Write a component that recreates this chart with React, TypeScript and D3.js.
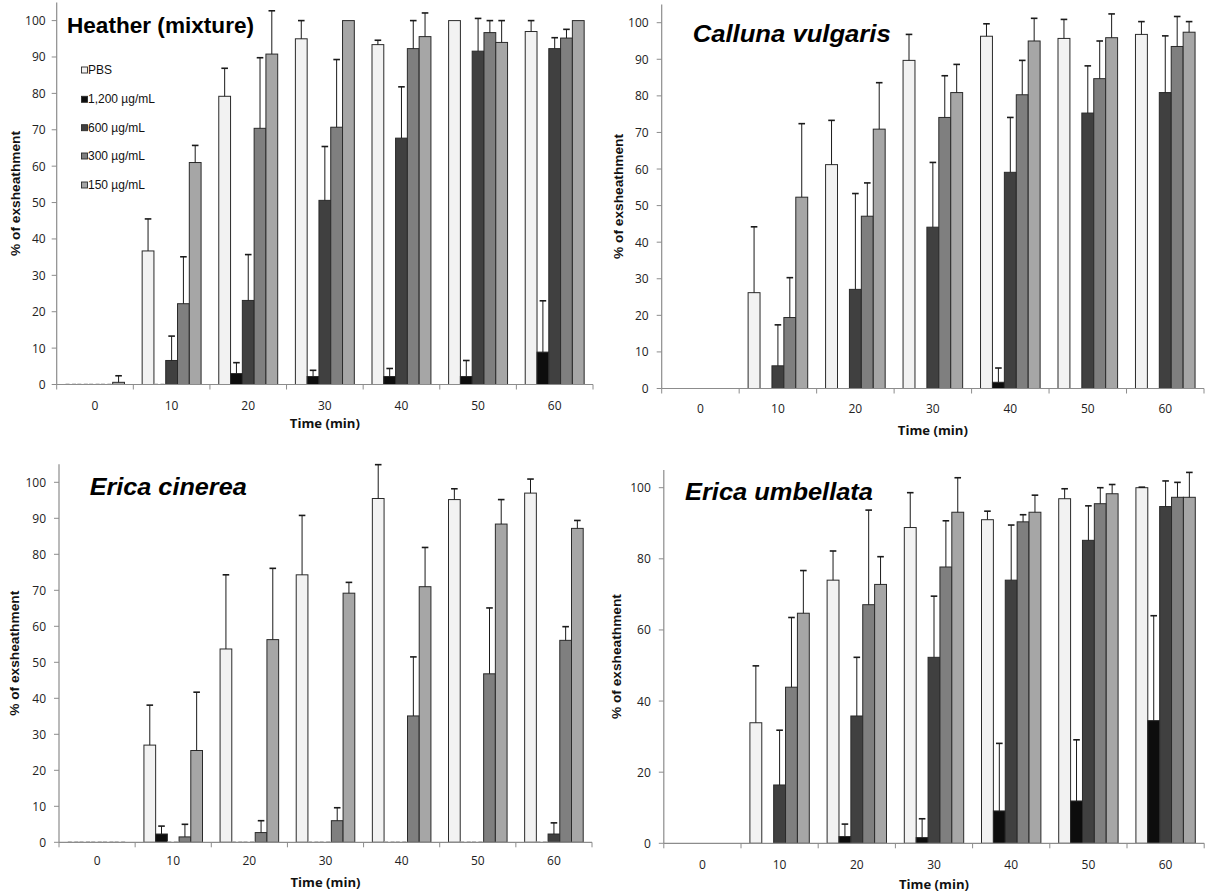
import React from "react";
import * as d3 from "d3";

// ---------- shared categories / series ----------
const categories = ["0", "10", "20", "30", "40", "50", "60"];
const seriesNames = ["PBS", "1,200 µg/mL", "600 µg/mL", "300 µg/mL", "150 µg/mL"];
const seriesColors = ["#f2f2f2", "#0d0d0d", "#404040", "#7f7f7f", "#a6a6a6"];
const yTicks10 = [0, 10, 20, 30, 40, 50, 60, 70, 80, 90, 100];
const yTicks20 = [0, 20, 40, 60, 80, 100];

// ---------- Heather (mixture) ----------  rows = series, cols = time
const heatherMeans = [
  [0, 36.7, 79.2, 95.0, 93.4, 100, 97.0],
  [0, 0, 3.0, 2.2, 2.2, 2.2, 8.9],
  [0, 6.6, 23.1, 50.6, 67.7, 91.6, 92.3],
  [0, 22.2, 70.4, 70.7, 92.3, 96.7, 95.2],
  [0.6, 61.0, 90.8, 100, 95.6, 94.0, 100],
];
const heatherUpper = [
  [0, 45.5, 86.9, 100, 94.6, 100, 100],
  [0, 0, 6.0, 3.9, 4.4, 6.6, 23.0],
  [0, 13.3, 35.7, 65.4, 81.8, 100.6, 95.3],
  [0, 35.1, 89.8, 89.3, 100, 100, 97.6],
  [2.4, 65.7, 102.7, 100, 102.1, 100, 100],
];

// ---------- Calluna vulgaris ----------
const callunaMeans = [
  [0, 26.2, 61.2, 89.7, 96.3, 95.7, 96.8],
  [0, 0, 0, 0, 1.7, 0, 0],
  [0, 6.2, 27.1, 44.1, 59.1, 75.3, 80.9],
  [0, 19.4, 47.1, 74.1, 80.3, 84.7, 93.5],
  [0, 52.3, 70.9, 80.9, 95.0, 95.9, 97.4],
];
const callunaUpper = [
  [0, 44.2, 73.3, 96.8, 99.7, 100.9, 100.3],
  [0, 0, 0, 0, 5.6, 0, 0],
  [0, 17.4, 53.3, 61.8, 74.1, 88.2, 96.4],
  [0, 30.3, 56.2, 85.5, 89.7, 95.0, 101.7],
  [0, 72.4, 83.6, 88.6, 101.2, 102.4, 100.3],
];

// ---------- Erica cinerea ----------
const cinereaMeans = [
  [0, 27.0, 53.7, 74.3, 95.5, 95.2, 97.0],
  [0, 2.3, 0, 0, 0, 0, 0],
  [0, 0, 0, 0, 0, 0, 2.3],
  [0, 1.5, 2.7, 6.0, 35.1, 46.8, 56.1],
  [0, 25.5, 56.3, 69.2, 71.0, 88.4, 87.2],
];
const cinereaUpper = [
  [0, 38.1, 74.3, 90.8, 104.9, 98.2, 100.9],
  [0, 4.5, 0, 0, 0, 0, 0],
  [0, 0, 0, 0, 0, 0, 5.4],
  [0, 5.0, 6.0, 9.6, 51.5, 65.1, 59.9],
  [0, 41.7, 76.1, 72.2, 81.9, 95.2, 89.4],
];

// ---------- Erica umbellata ----------
const umbellataMeans = [
  [0, 33.9, 74.0, 88.8, 91.0, 96.9, 100],
  [0, 0, 1.9, 1.6, 9.1, 11.9, 34.5],
  [0, 16.4, 35.8, 52.3, 74.0, 85.2, 94.7],
  [0, 43.9, 67.1, 77.7, 90.4, 95.5, 97.3],
  [0, 64.7, 72.8, 93.1, 93.1, 98.3, 97.3],
];
const umbellataUpper = [
  [0, 49.9, 82.2, 98.6, 93.4, 99.7, 100.15],
  [0, 0, 5.4, 6.9, 28.1, 29.1, 64.0],
  [0, 31.8, 52.3, 69.5, 89.5, 94.9, 101.9],
  [0, 63.5, 93.7, 90.7, 92.4, 100, 101.5],
  [0, 76.7, 80.6, 102.8, 97.9, 100.9, 104.3],
];

type PanelCfg = {
  title: string;
  italic: boolean;
  means: number[][];
  upper: number[][];
  ticks: number[];
  x0: number;
  x1: number;
  y0: number;
  y100: number;
  titleX: number;
  titleY: number;
  titleW: number;
  titleSize: number;
  ylabX: number;
  xTickY: number;
  xLabY: number;
  yTickGap: number;
  zeroDash: boolean;
  legend: boolean;
};

const panels: PanelCfg[] = [
  {
    title: "Heather (mixture)", italic: false, means: heatherMeans, upper: heatherUpper, ticks: yTicks10,
    x0: 56.7, x1: 593, y0: 384.5, y100: 20.6, titleX: 67, titleY: 32.5, titleW: 187, titleSize: 22,
    ylabX: 15.5, xTickY: 405, xLabY: 423, yTickGap: 11, zeroDash: true, legend: true,
  },
  {
    title: "Calluna vulgaris", italic: true, means: callunaMeans, upper: callunaUpper, ticks: yTicks10,
    x0: 661.7, x1: 1204, y0: 388.5, y100: 22.7, titleX: 692.7, titleY: 41.7, titleW: 198, titleSize: 23,
    ylabX: 619, xTickY: 408.3, xLabY: 430, yTickGap: 13, zeroDash: false, legend: false,
  },
  {
    title: "Erica cinerea", italic: true, means: cinereaMeans, upper: cinereaUpper, ticks: yTicks10,
    x0: 59, x1: 592, y0: 842.3, y100: 482.3, titleX: 89.7, titleY: 495, titleW: 157, titleSize: 23,
    ylabX: 15, xTickY: 860.7, xLabY: 882.7, yTickGap: 13, zeroDash: true, legend: false,
  },
  {
    title: "Erica umbellata", italic: true, means: umbellataMeans, upper: umbellataUpper, ticks: yTicks20,
    x0: 663.8, x1: 1204.2, y0: 843.3, y100: 487.7, titleX: 685, titleY: 500, titleW: 188, titleSize: 23,
    ylabX: 617.4, xTickY: 864, xLabY: 884, yTickGap: 13, zeroDash: false, legend: false,
  },
];

const tickFont = "'Open Sans', 'Liberation Sans', Arial, sans-serif";
const arialFont = "'Liberation Sans', Arial, Helvetica, sans-serif";
const axisColor = "#8c8c8c";

function Panel({ p }: { p: PanelCfg }) {
  const x = d3.scaleBand<string>().domain(categories).range([p.x0, p.x1]).paddingInner(0).paddingOuter(0);
  const xs = d3
    .scaleBand<string>()
    .domain(seriesNames)
    .range([0, x.bandwidth()])
    .paddingInner(0)
    .paddingOuter(0.75);
  const unit = (p.y0 - p.y100) / 100;
  const y = d3.scaleLinear().domain([0, 105]).range([p.y0, p.y0 - 105 * unit]);
  const bw = xs.bandwidth();
  const boundaries = d3.range(categories.length + 1).map((i) => p.x0 + i * x.step());
  const plotMidY = (y(0) + y(105)) / 2;
  const plotMidX = (p.x0 + p.x1) / 2;

  return (
    <g>
      {/* bars */}
      {seriesNames.map((s, si) =>
        categories.map((c, ci) => {
          const v = p.means[si][ci];
          const bx = (x(c) as number) + (xs(s) as number);
          if (v <= 0) {
            return p.zeroDash ? (
              <line key={`z${si}-${ci}`} x1={bx} x2={bx + bw} y1={y(0) - 0.5} y2={y(0) - 0.5}
                stroke="#b0b0b0" strokeWidth={1.2} strokeDasharray="4 2.5" />
            ) : null;
          }
          return (
            <rect key={`b${si}-${ci}`} x={bx} y={y(v)} width={bw} height={y(0) - y(v)}
              fill={seriesColors[si]} stroke="#2a2a2a" strokeWidth={1} />
          );
        })
      )}
      {/* error bars */}
      {seriesNames.map((s, si) =>
        categories.map((c, ci) => {
          const v = p.means[si][ci];
          const u = p.upper[si][ci];
          if (!(u > v)) return null;
          const cx = (x(c) as number) + (xs(s) as number) + bw / 2;
          return (
            <g key={`e${si}-${ci}`} stroke="#1a1a1a">
              <line x1={cx} x2={cx} y1={y(v)} y2={y(u)} strokeWidth={1} />
              <line x1={cx - 3.3} x2={cx + 3.3} y1={y(u)} y2={y(u)} strokeWidth={1.6} />
            </g>
          );
        })
      )}
      {/* y axis */}
      <line x1={p.x0} x2={p.x0} y1={y(105)} y2={y(0)} stroke={axisColor} strokeWidth={1.2} />
      {p.ticks.map((t) => (
        <g key={`yt${t}`}>
          <line x1={p.x0 - 5} x2={p.x0} y1={y(t)} y2={y(t)} stroke={axisColor} strokeWidth={1} />
          <text x={p.x0 - p.yTickGap} y={y(t)} textAnchor="end" dominantBaseline="central"
            fontFamily={tickFont} fontSize={12} fill="#222">{t}</text>
        </g>
      ))}
      {/* x axis */}
      <line x1={p.x0} x2={p.x1} y1={y(0)} y2={y(0)} stroke={axisColor} strokeWidth={1.2} />
      {boundaries.map((bx, i) => (
        <line key={`xt${i}`} x1={bx} x2={bx} y1={y(0)} y2={y(0) + 5} stroke={axisColor} strokeWidth={1} />
      ))}
      {categories.map((c) => (
        <text key={`xl${c}`} x={(x(c) as number) + x.bandwidth() / 2} y={p.xTickY} textAnchor="middle"
          dominantBaseline="central" fontFamily={tickFont} fontSize={12} fill="#222">{c}</text>
      ))}
      {/* axis titles */}
      <text x={plotMidX} y={p.xLabY} textAnchor="middle" dominantBaseline="central" fontFamily={tickFont}
        fontWeight="bold" fontSize={12.5} fill="#111" textLength={70} lengthAdjust="spacingAndGlyphs">Time (min)</text>
      <text transform={`translate(${p.ylabX},${plotMidY}) rotate(-90)`} textAnchor="middle" dominantBaseline="central"
        fontFamily={arialFont} fontWeight="bold" fontSize={12} fill="#111" textLength={125}
        lengthAdjust="spacingAndGlyphs">% of exsheathment</text>
      {/* panel title */}
      <text x={p.titleX} y={p.titleY} fontFamily={arialFont} fontWeight="bold" fontStyle={p.italic ? "italic" : "normal"}
        fontSize={p.titleSize} fill="#000" textLength={p.titleW} lengthAdjust="spacingAndGlyphs">{p.title}</text>
      {/* legend */}
      {p.legend &&
        seriesNames.map((s, si) => {
          const ly = [70, 99.3, 127.7, 156, 185][si];
          return (
            <g key={`lg${si}`}>
              <rect x={81.5} y={ly - 3} width={6} height={6} fill={seriesColors[si]} stroke="#2a2a2a" strokeWidth={0.9} />
              <text x={88} y={ly} dominantBaseline="central" fontFamily={arialFont} fontSize={12} fill="#111">{s}</text>
            </g>
          );
        })}
    </g>
  );
}

export default function App() {
  return (
    <div style={{ position: "absolute", left: 0, top: 0, width: 1206, height: 894, background: "#fff" }}>
      <svg width={1206} height={894} viewBox="0 0 1206 894" style={{ display: "block" }}>
        <rect x={0} y={0} width={1206} height={894} fill="#fff" />
        {panels.map((p, i) => (
          <Panel key={i} p={p} />
        ))}
      </svg>
    </div>
  );
}
